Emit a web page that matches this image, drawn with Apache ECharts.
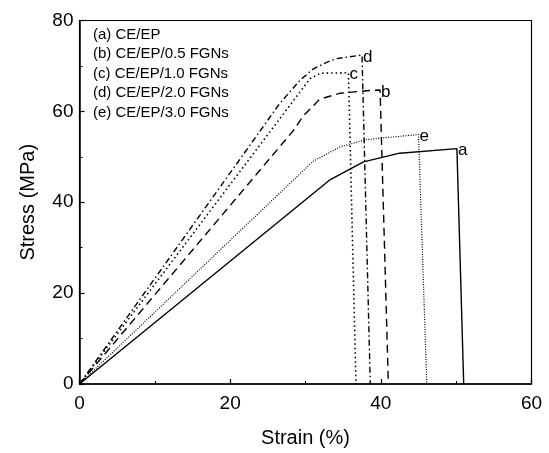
<!DOCTYPE html>
<html>
<head>
<meta charset="utf-8">
<script src="https://cdn.jsdelivr.net/npm/echarts@6/dist/echarts.min.js"></script>
<style>html,body{margin:0;padding:0;background:#fff}#c{width:549px;height:453px}</style>
</head>
<body>
<div id="c"></div>
<script>
const xTicks = [0, 20, 40, 60];
const yTicks = [0, 20, 40, 60, 80];
const names = ['(a) CE/EP', '(b) CE/EP/0.5 FGNs', '(c) CE/EP/1.0 FGNs', '(d) CE/EP/2.0 FGNs', '(e) CE/EP/3.0 FGNs'];
const tags = ['a', 'b', 'c', 'd', 'e'];
const strainA = [0, 33.3, 37.7, 42.5, 50.1, 51.0];
const stressA = [0, 45.0, 48.9, 50.8, 51.8, 0];
const strainB = [0, 28.4, 29.7, 31.9, 34.6, 38.6, 39.9, 41.0];
const stressB = [0, 55.8, 59.0, 62.7, 64.0, 64.6, 64.7, 0];
const strainC = [0, 30.6, 32.0, 35.7, 36.7];
const stressC = [0, 67.2, 68.4, 68.5, 0];
const strainD = [0, 26.6, 29.3, 31.0, 32.8, 34.1, 37.5, 38.6];
const stressD = [0, 61.8, 66.9, 69.3, 70.8, 71.6, 72.4, 0];
const strainE = [0, 31.0, 34.6, 38.1, 45.0, 46.1];
const stressE = [0, 49.0, 52.2, 53.8, 54.9, 0];

const sets = [[strainA, stressA], [strainB, stressB], [strainC, stressC], [strainD, stressD], [strainE, stressE]];
const styles = [
  {type: 'solid', width: 1.4},
  {type: [8, 5], width: 1.4},
  {type: [1.5, 3], width: 1.6},
  {type: [6, 3, 1.5, 3], width: 1.4},
  {type: [1, 1.5], width: 1.2}
];
const FONT = 'Liberation Sans, Arial, sans-serif';

function build(i) {
  const [xs, ys] = sets[i];
  const peak = xs.length - 2;
  return xs.map((x, k) => {
    const item = {value: [x, ys[k]]};
    if (k === peak) {
      item.label = {show: true, position: 'right', distance: 1, offset: [0, 2], formatter: tags[i],
        color: '#000', fontSize: 17, fontFamily: FONT};
    }
    return item;
  });
}

const chart = echarts.init(document.getElementById('c'));
const axisCommon = {
  axisLine: {show: true, onZero: false, lineStyle: {color: '#000', width: 1.5}},
  axisTick: {show: true, inside: true, length: 5, lineStyle: {color: '#000', width: 1.2}},
  minorTick: {show: true, splitNumber: 2, length: 3, lineStyle: {color: '#000', width: 1}},
  splitLine: {show: false},
  nameTextStyle: {color: '#000', fontSize: 20, fontFamily: FONT},
  nameLocation: 'middle'
};
chart.setOption({
  animation: false,
  backgroundColor: '#fff',
  grid: {left: 79.5, right: 17.5, top: 20.5, bottom: 65, show: true, borderColor: '#000', borderWidth: 1.2},
  legend: {
    data: names, orient: 'vertical', left: 88, top: 27, itemGap: 4.5, padding: 0,
    icon: 'none', itemWidth: 0, itemHeight: 15,
    textStyle: {color: '#000', fontSize: 15, fontFamily: FONT, padding: 0},
    selectedMode: false
  },
  xAxis: Object.assign({}, axisCommon, {
    type: 'value', min: xTicks[0], max: xTicks[xTicks.length - 1], interval: 20,
    name: 'Strain (%)', nameGap: 44,
    axisLabel: {color: '#000', fontSize: 19, fontFamily: FONT, margin: 10}
  }),
  yAxis: Object.assign({}, axisCommon, {
    type: 'value', min: yTicks[0], max: yTicks[yTicks.length - 1], interval: 20,
    name: 'Stress (MPa)', nameGap: 41,
    axisLabel: {color: '#000', fontSize: 19, fontFamily: FONT, margin: 6, padding: [0, 0, 5, 0]}
  }),
  series: names.map((n, i) => ({
    name: n, type: 'line', data: build(i), showSymbol: true, symbol: 'circle', symbolSize: 0,
    lineStyle: Object.assign({color: '#000'}, styles[i]),
    itemStyle: {color: '#000'},
    label: {show: false},
    emphasis: {disabled: true}, z: 3
  }))
});
</script>
</body>
</html>
